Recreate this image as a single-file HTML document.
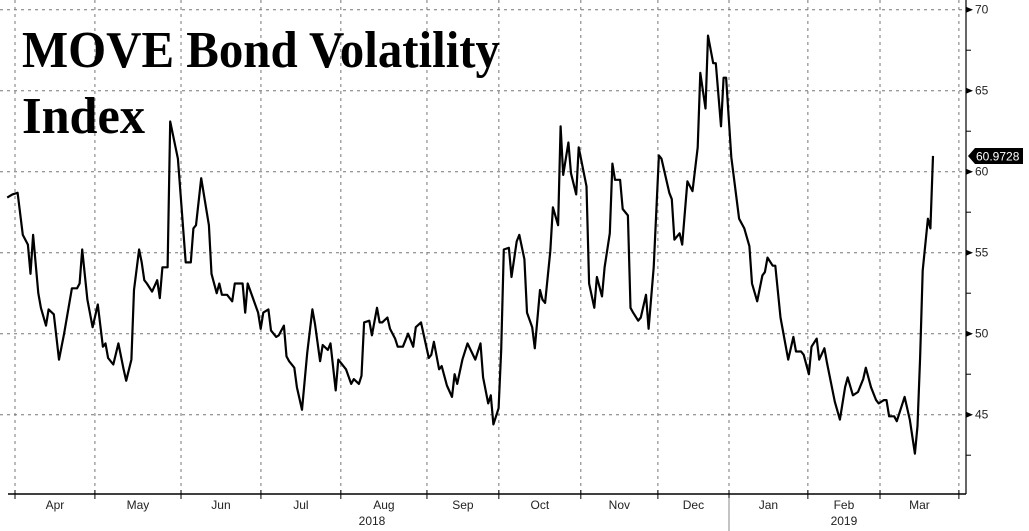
<!DOCTYPE html>
<html><head><meta charset="utf-8"><style>
html,body{margin:0;padding:0;background:#fff;}
svg{display:block;}
</style></head><body>
<svg id="chart" width="1029" height="531" viewBox="0 0 1029 531" xmlns="http://www.w3.org/2000/svg">
<g id="grid"></g>
<g id="axes"></g>
<path id="line" fill="none" stroke="#000" stroke-width="2.2" stroke-linejoin="round"></path>
<text x="22" y="67" font-family="Liberation Serif, serif" font-weight="bold" font-size="52" textLength="478" lengthAdjust="spacingAndGlyphs">MOVE Bond Volatility</text>
<text x="22" y="133" font-family="Liberation Serif, serif" font-weight="bold" font-size="52" textLength="123" lengthAdjust="spacingAndGlyphs">Index</text>
<g id="lastlabel"></g>
</svg>
<script>
const days=[-3,-1,1,3,5,6,7,9,10,12,13,15,16,17,19,22,24,25,26,28,30,32,34,35,36,38,40,42,43,45,46,48,49,50,51,53,55,56,57,59,60,63,66,68,69,70,72,75,76,78,79,80,82,84,85,88,89,90,94,95,96,98,99,101,102,104,105,106,108,109,111,113,115,116,118,119,121,122,124,125,128,130,131,133,134,135,137,138,140,141,142,144,145,147,148,150,152,154,155,157,160,161,162,164,165,167,169,170,171,173,175,178,180,181,183,184,185,187,188,189,191,192,194,195,197,198,200,201,203,204,205,207,208,210,211,212,214,215,217,218,221,222,224,225,227,228,230,231,232,234,235,237,238,239,241,242,244,245,247,249,250,251,253,254,255,257,258,260,262,264,265,267,268,270,271,273,274,275,277,280,282,284,285,287,289,290,291,293,294,296,299,301,302,304,305,307,308,310,311,313,314,317,319,321,322,324,326,328,329,331,333,334,336,337,338,340,341,344,346,348,349,350,351,353,354,355];
const values=[58.4,58.6,58.7,56.1,55.5,53.7,56.1,52.5,51.6,50.5,51.5,51.2,49.8,48.4,50.0,52.8,52.8,53.1,55.2,52.1,50.4,51.8,49.2,49.4,48.5,48.1,49.4,47.8,47.1,48.4,52.7,55.2,54.4,53.3,53.1,52.6,53.3,52.2,54.1,54.1,63.1,60.8,54.4,54.4,56.5,56.7,59.6,56.7,53.7,52.5,53.1,52.4,52.4,52.0,53.1,53.1,51.3,53.1,51.3,50.3,51.3,51.5,50.2,49.8,49.9,50.5,48.6,48.3,47.9,46.7,45.3,48.8,51.5,50.6,48.3,49.3,49.0,49.4,46.5,48.4,47.8,46.9,47.2,46.9,47.4,50.7,50.8,49.9,51.6,50.7,50.7,51.0,50.3,49.7,49.2,49.2,50.0,49.2,50.4,50.7,48.5,48.7,49.5,47.8,48.0,46.8,46.1,47.5,46.9,48.4,49.4,48.4,49.4,47.3,45.7,46.2,44.4,45.4,49.0,55.2,55.3,53.5,55.7,56.1,54.6,51.3,50.4,49.1,52.7,52.1,51.9,55.1,57.8,56.7,62.8,59.8,61.8,59.9,58.6,61.5,59.1,53.1,51.6,53.5,52.3,54.1,56.2,60.5,59.5,59.5,57.7,57.3,51.6,51.3,50.8,51.0,52.4,50.3,54.1,61.0,60.8,60.1,58.7,58.3,55.8,56.2,55.5,59.4,58.8,61.5,66.1,63.9,68.4,66.7,66.7,62.8,65.8,65.8,60.9,57.1,56.5,55.4,53.1,52.0,53.6,53.8,54.7,54.2,54.2,51.0,48.4,49.8,48.9,48.9,48.7,47.5,49.2,49.7,48.4,49.1,48.2,45.8,44.7,46.7,47.3,46.2,46.4,47.2,47.9,46.7,45.9,45.7,45.9,45.9,44.9,44.9,44.6,46.1,44.7,42.6,44.3,48.5,53.9,57.1,56.5,60.9728];
const monthTicks=[0,30.9,64.2,95.1,126,159.3,187.1,218.8,248.6,276.1,306.6,334.5,365];
const monthLabels=["Apr","May","Jun","Jul","Aug","Sep","Oct","Nov","Dec","Jan","Feb","Mar"];
const yTicks=[45,50,55,60,65,70];
const yMinor=[42.5,47.5,52.5,57.5,62.5,67.5];
const yearLabels=["2018","2019"];
const lastValue=60.9728;

const NS="http://www.w3.org/2000/svg";
const X=d=>15+d*2.586;
const Y=v=>171.7-(v-60)*16.2;
const AX=966, AB=494;
function el(tag,attrs,parent,txt){const e=document.createElementNS(NS,tag);for(const k in attrs)e.setAttribute(k,attrs[k]);if(txt!==undefined)e.textContent=txt;parent.appendChild(e);return e;}
const grid=document.getElementById('grid'), axes=document.getElementById('axes');
const font="Liberation Sans Narrow, Liberation Sans, sans-serif";
yTicks.forEach(v=>{
  const g=el('line',{x1:0,x2:AX,y1:Y(v),y2:Y(v),stroke:'#777','stroke-width':1,'stroke-dasharray':'3,4'},grid);
  
  
  const t=el('path',{d:`M${AX} ${Y(v)-3}L${AX+7} ${Y(v)}L${AX} ${Y(v)+3}Z`,fill:'#000'},axes);
  
  
  const l=el('text',{x:AX+9,y:Y(v)+4,'font-family':font,'font-size':12,fill:'#222'},axes,String(v));
  
  
});
yMinor.forEach(v=>{
  const t=el('line',{x1:AX,x2:AX+5,y1:Y(v),y2:Y(v),stroke:'#000'},axes);
  
  
});
monthTicks.forEach((d,i)=>{
  const g=el('line',{x1:X(d),x2:X(d),y1:0,y2:AB,stroke:'#777','stroke-width':1,'stroke-dasharray':'3,4'},grid);
  
  
  const t=el('line',{x1:X(d),x2:X(d),y1:AB-4,y2:AB+5,stroke:'#000'},axes);
  
  
  if(i<monthLabels.length){
    const l=el('text',{x:(X(d)+X(monthTicks[i+1]))/2,y:509,'text-anchor':'middle','font-family':font,'font-size':12,fill:'#222'},axes,monthLabels[i]);
    
    
  }
});
const a1=el('line',{x1:8,x2:AX,y1:AB,y2:AB,stroke:'#000','stroke-width':1.5},axes);


const a2=el('line',{x1:AX,x2:AX,y1:0,y2:AB,stroke:'#000','stroke-width':1.2},axes);


const sep=el('line',{x1:X(monthTicks[9]),x2:X(monthTicks[9]),y1:AB+4,y2:531,stroke:'#888'},axes);


const y1=el('text',{x:(X(monthTicks[0])+X(monthTicks[9]))/2,y:525,'text-anchor':'middle','font-family':font,'font-size':12,fill:'#222'},axes,yearLabels[0]);


const y2=el('text',{x:(X(monthTicks[9])+X(monthTicks[12]))/2,y:525,'text-anchor':'middle','font-family':font,'font-size':12,fill:'#222'},axes,yearLabels[1]);



document.getElementById('line').setAttribute('d',days.map((d,i)=>(i?'L':'M')+X(d).toFixed(1)+' '+Y(values[i]).toFixed(1)).join(''));

const ll=document.getElementById('lastlabel');
const ly=Y(lastValue);
const box=el('path',{d:`M${AX+2} ${ly}L${AX+9} ${ly-8}L${AX+57} ${ly-8}L${AX+57} ${ly+8}L${AX+9} ${ly+8}Z`,fill:'#000'},ll);


const lt=el('text',{x:AX+10,y:ly+4.5,'font-family':font,'font-size':12,fill:'#fff'},ll,lastValue.toFixed(4));


</script>
</body></html>
